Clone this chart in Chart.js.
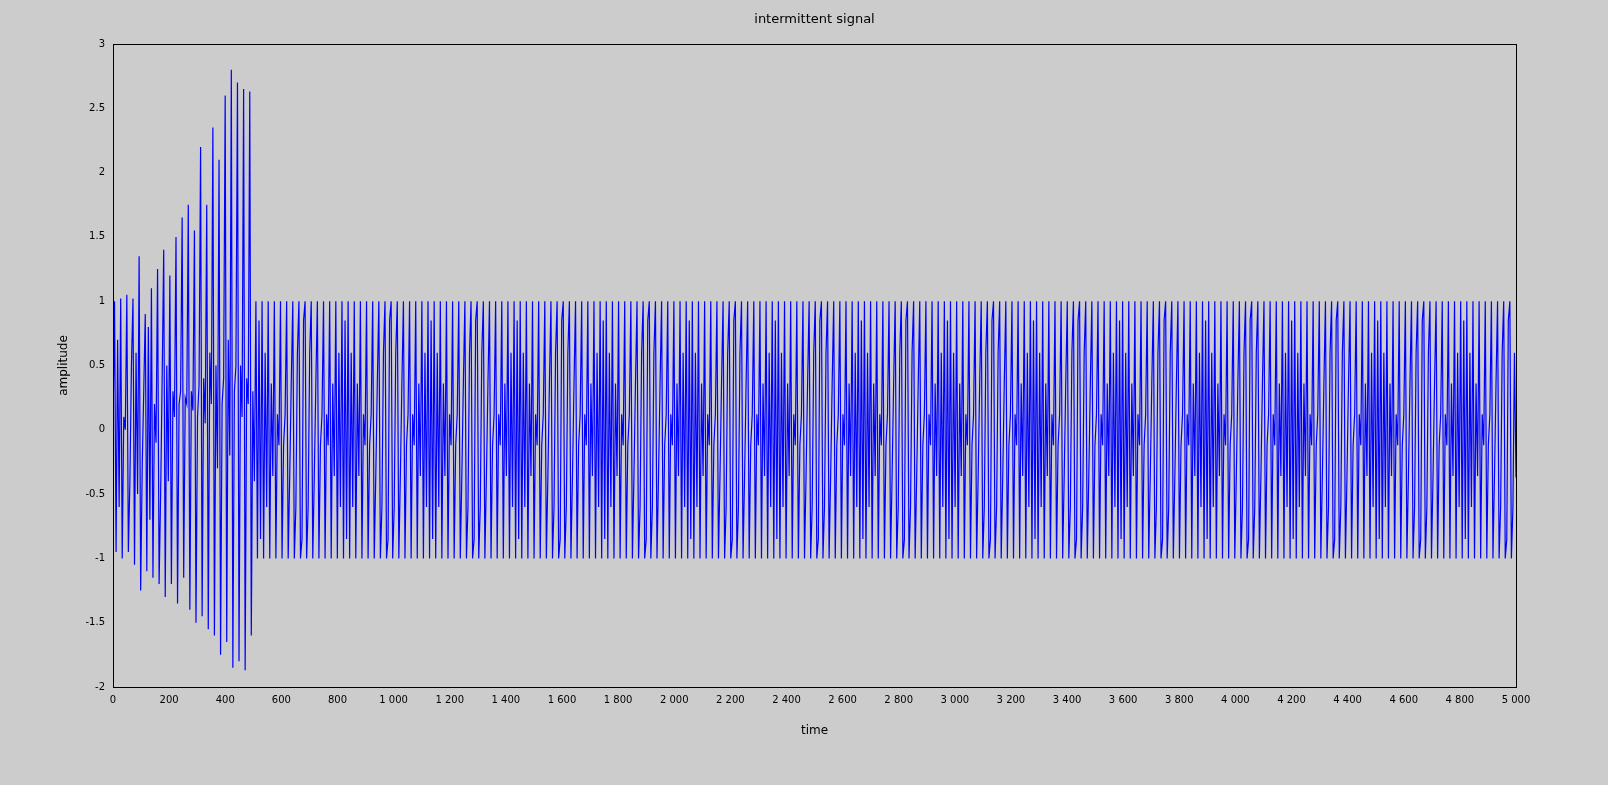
<!DOCTYPE html>
<html><head><meta charset="utf-8">
<script src="https://cdn.jsdelivr.net/npm/chart.js@4"></script>
<style>html,body{margin:0;background:#cccccc;overflow:hidden;}#w{width:1608px;height:785px;}</style>
</head><body><div id="w"><canvas id="c"></canvas></div>
<script>
const chartTitle = "intermittent signal";
const xTitle = "time";
const yTitle = "amplitude";
const tEnd = 5000;
// burst section (0 - ~500): per-cycle high, low, inner values
const burstHi = [1.0,1.02,1.05,1.02,1.35,0.9,1.1,1.25,1.4,1.2,1.5,1.65,1.75,1.55,2.2,1.75,2.35,2.1,2.6,2.8,2.7,2.65,2.63];
const burstLo = [-0.95,-1.0,-0.95,-1.05,-1.25,-1.1,-1.15,-1.2,-1.3,-1.2,-1.35,-1.15,-1.4,-1.5,-1.45,-1.55,-1.6,-1.75,-1.65,-1.85,-1.8,-1.87,-1.6];
const burstMidA = [0.7,0.1,-0.4,0.6,-0.3,0.8,0.2,-0.5,0.5,0.3,0.2,0.25,0.3,0.1,0.4,0.6,0.5,0.2,0.7,0.3,0.5,0.4,0.3];
const burstMidB = [-0.6,0.0,0.5,-0.5,0.3,-0.7,-0.1,0.4,-0.4,0.1,0.3,0.2,0.15,0.35,0.05,0.2,-0.3,0.4,-0.2,0.5,0.1,0.2,-0.4];
// steady section (~500 - 5000): per-cycle high/low and inner envelope sample
const steadyHi = 1.0, steadyLo = -1.0;
const steadyEnv = [
0.85,0.6,0.36,0.12,-0.12,-0.36,-0.6,-0.85,-0.6,-0.36,-0.12,0.12,0.36,0.6,
0.85,0.6,0.36,0.12,-0.12,-0.36,-0.6,-0.85,-0.6,-0.36,-0.12,0.12,0.36,0.6,
0.85,0.6,0.36,0.12,-0.12,-0.36,-0.6,-0.85,-0.6,-0.36,-0.12,0.12,0.36,0.6,
0.85,0.6,0.36,0.12,-0.12,-0.36,-0.6,-0.85,-0.6,-0.36,-0.12,0.12,0.36,0.6,
0.85,0.6,0.36,0.12,-0.12,-0.36,-0.6,-0.85,-0.6,-0.36,-0.12,0.12,0.36,0.6,
0.85,0.6,0.36,0.12,-0.12,-0.36,-0.6,-0.85,-0.6,-0.36,-0.12,0.12,0.36,0.6,
0.85,0.6,0.36,0.12,-0.12,-0.36,-0.6,-0.85,-0.6,-0.36,-0.12,0.12,0.36,0.6,
0.85,0.6,0.36,0.12,-0.12,-0.36,-0.6,-0.85,-0.6,-0.36,-0.12,0.12,0.36,0.6,
0.85,0.6,0.36,0.12,-0.12,-0.36,-0.6,-0.85,-0.6,-0.36,-0.12,0.12,0.36,0.6,
0.85,0.6,0.36,0.12,-0.12,-0.36,-0.6,-0.85,-0.6,-0.36,-0.12,0.12,0.36,0.6,
0.85,0.6,0.36,0.12,-0.12,-0.36,-0.6,-0.85,-0.6,-0.36,-0.12,0.12,0.36,0.6,
0.85,0.6,0.36,0.12,-0.12,-0.36,-0.6,-0.85,-0.6,-0.36,-0.12,0.12,0.36,0.6,
0.85,0.6,0.36,0.12,-0.12,-0.36,-0.6,-0.85,-0.6,-0.36,-0.12,0.12,0.36,0.6,
0.85,0.6,0.36,0.12,-0.12,-0.36,-0.6,-0.85,-0.6,-0.36,-0.12,0.12,0.36,0.6,
0.85,0.6,0.36,0.12,-0.12,-0.36,-0.6,-0.85,-0.6];
const endValue = -0.37;

const ys = [0];
for (let i=0;i<burstHi.length;i++) ys.push(burstHi[i], burstLo[i], burstMidA[i], burstMidB[i]);
for (let i=0;i<steadyEnv.length;i++) ys.push(steadyHi, steadyLo, steadyEnv[i], -steadyEnv[i]);
ys.push(endValue);
const pts = ys.map((y,i)=>({x: i*tEnd/(ys.length-1), y}));

const fmt = v => String(Math.round(v)).replace(/\B(?=(\d{3})+(?!\d))/g,' ');
const F = "'DejaVu Sans', sans-serif";
const plug = {id:'tp', afterDraw(ch){const c=ch.ctx,a=ch.chartArea;c.save();c.fillStyle='#000';c.textAlign='center';c.textBaseline='middle';
 c.font='13px '+F;c.fillText(chartTitle,(a.left+a.right)/2,20);
 c.font='12px '+F;c.fillText(xTitle,(a.left+a.right)/2,731);
 c.translate(64,(a.top+a.bottom)/2);c.rotate(-Math.PI/2);c.fillText(yTitle,0,0);c.restore();
 c.save();c.strokeStyle='#000';c.lineWidth=1;c.strokeRect(Math.round(a.left)+0.5,Math.round(a.top)+0.5,Math.round(a.right-a.left),Math.round(a.bottom-a.top));c.restore();}};
new Chart(document.getElementById('c'),{
 type:'line',
 data:{datasets:[{data:pts,borderColor:'#0000ff',borderWidth:1.2,pointRadius:0,tension:0,fill:false}]},
 options:{responsive:true,maintainAspectRatio:false,animation:false,
  layout:{padding:{top:44,right:92,left:0,bottom:0}},
  plugins:{legend:{display:false},tooltip:{enabled:false}},
  scales:{
   x:{type:'linear',min:0,max:5000,grid:{display:false,drawTicks:true,tickLength:5},border:{color:'#000'},
      ticks:{stepSize:200,color:'#000',font:{family:F,size:10},maxRotation:0,autoSkip:false,callback:fmt,padding:2},
      afterFit(s){s.height=98;}},
   y:{min:-2,max:3,grid:{display:false,tickLength:5},border:{color:'#000'},
      ticks:{stepSize:0.5,color:'#000',font:{family:F,size:10},callback:v=>String(v)},
      afterFit(s){s.width=113;}}
  }},
 plugins:[plug]
});
</script></body></html>
